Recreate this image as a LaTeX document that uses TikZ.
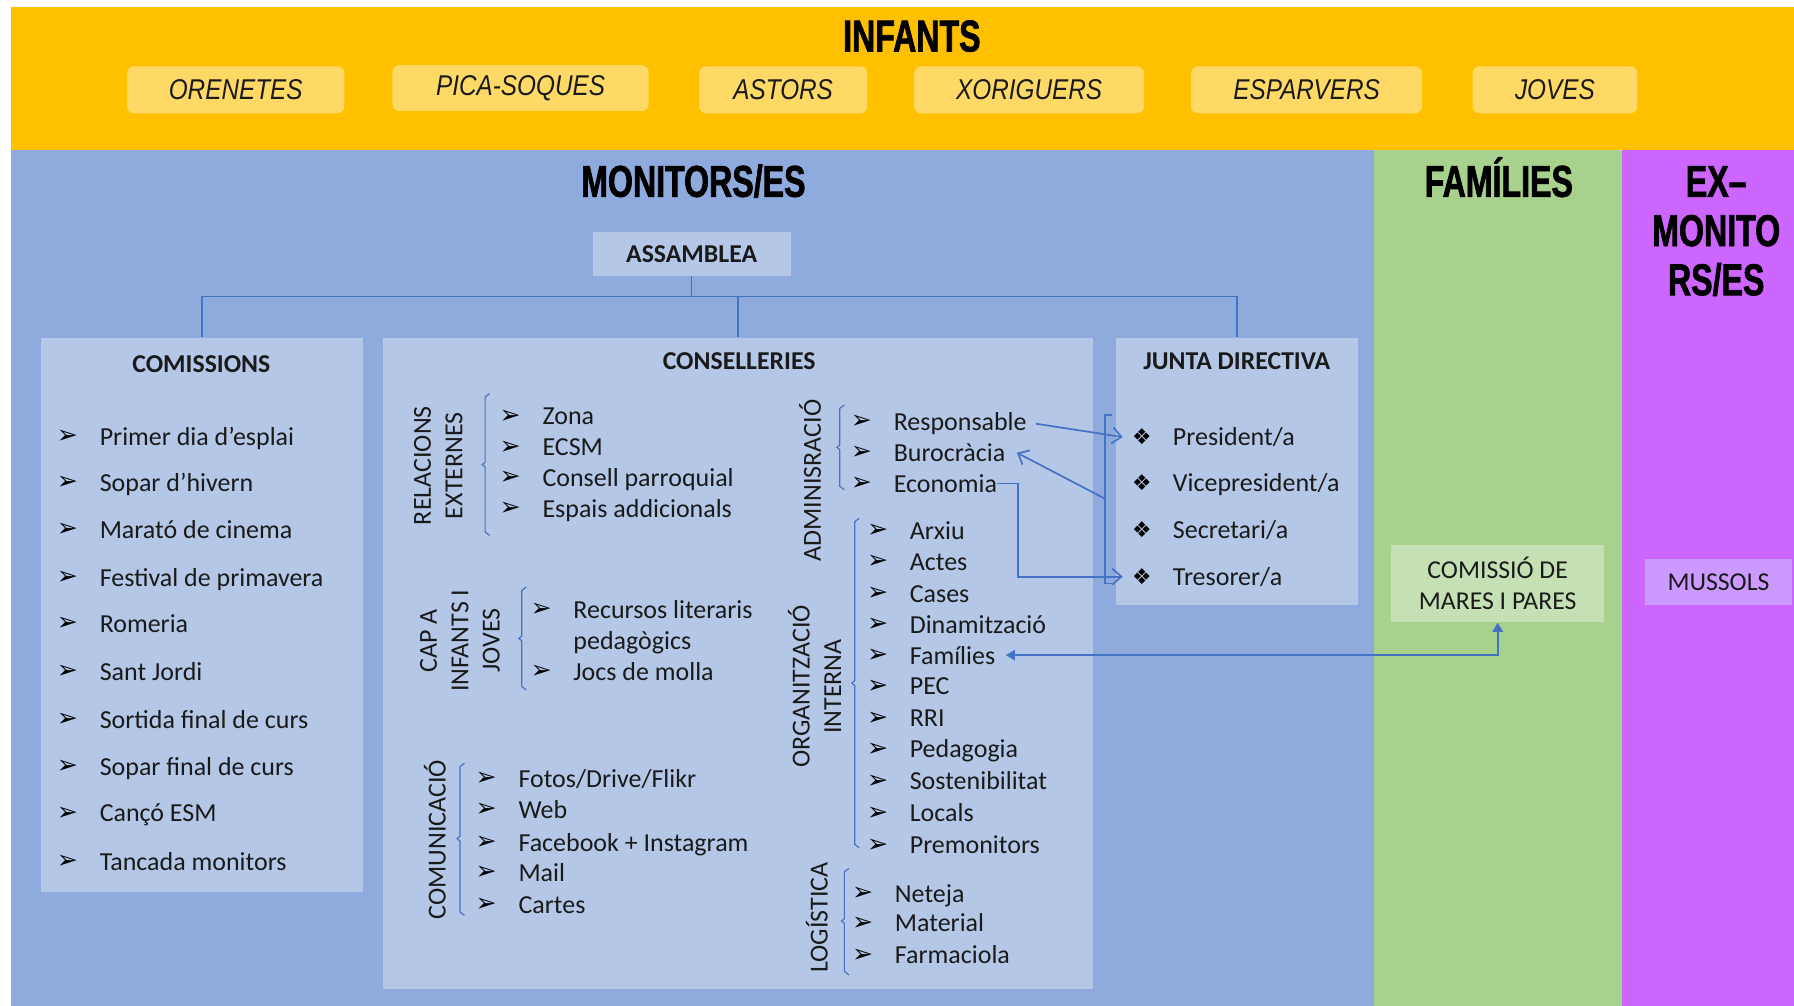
\documentclass[tikz,border=0pt]{standalone}
\usepackage{fontspec}
\setmainfont{Carlito}
\newfontfamily\symfont{DejaVu Sans}
\newfontfamily\brushfont{Liberation Sans}[FakeStretch=0.72,FakeBold=1.5]
\newfontfamily\grpfont{Liberation Sans}[FakeStretch=0.85]
\usetikzlibrary{arrows.meta}
\definecolor{yel}{HTML}{FFC000}
\definecolor{grpY}{HTML}{FFD966}
\definecolor{bgB}{HTML}{8FAADC}
\definecolor{boxB}{HTML}{B4C7E7}
\definecolor{bgG}{HTML}{A9D18E}
\definecolor{boxG}{HTML}{C5E0B4}
\definecolor{bgP}{HTML}{CC66FF}
\definecolor{boxP}{HTML}{CC99FF}
\definecolor{lineB}{HTML}{4472C4}
\definecolor{txt}{HTML}{1A1A1A}
\newcommand\Litem[4]{\node[bul] (#1b) at (#2-28,#3) {➢}; \node[itm] (#1) at (#2,#3) {#4};}
\newcommand\Jitem[4]{\node[bul, font=\symfont\fontsize{19}{22}\selectfont] (#1b) at (#2-27,#3) {❖}; \node[itm] (#1) at (#2,#3) {#4};}
\newcommand\Brk[4]{\draw[brk] (#1+4,#2) -- (#1,#2+3) -- (#1,#4-2) -- (#1-2.5,#4) -- (#1,#4+2) -- (#1,#3-3) -- (#1+4,#3);}
\begin{document}
\begin{tikzpicture}[x=1pt,y=-1pt,
  grp/.style={fill=grpY, rounded corners=6pt, inner sep=0pt, text=txt, font=\grpfont\itshape\fontsize{25}{28}\selectfont},
  lbox/.style={fill=boxB, inner sep=0pt},
  ttl/.style={inner sep=0pt, text=txt, font=\fontsize{22.5}{27}\selectfont\bfseries},
  itm/.style={anchor=mid west, inner sep=0pt, yshift=-5pt, text=txt, font=\fontsize{22.7}{27.5}\selectfont},
  bul/.style={inner sep=0pt, text=black, font=\symfont\fontsize{22}{24}\selectfont},
  vlab/.style={rotate=90, align=center, inner sep=0pt, text=txt, font=\fontsize{22.7}{27.5}\selectfont},
  brk/.style={draw=lineB, line width=1pt},
  tree/.style={draw=lineB, line width=1.3pt},
  conn/.style={draw=lineB, line width=1.5pt},
  barb/.style={-{Straight Barb[length=8pt,width=14pt]}},
  head/.style={inner sep=0pt, align=center, text=black, font=\brushfont\bfseries\fontsize{39}{43}\selectfont},
  plain/.style={inner sep=0pt, align=center, text=txt, font=\fontsize{22.5}{27}\selectfont}]
\useasboundingbox (0,0) rectangle (1568,879);
\fill[white] (0,0) rectangle (1568,879);
% bands
\fill[yel] (10,6) rectangle (1568,131);
\fill[bgB] (10,131) rectangle (1201,879);
\fill[bgG] (1201,131) rectangle (1418,879);
\fill[bgP] (1418,131) rectangle (1568,879);
% INFANTS
\node[head, anchor=base] (hinf) at (797,45) {INFANTS};
\node[grp, minimum width=190pt, minimum height=41pt] (g1) at (206,78.5) {ORENETES};
\node[grp, minimum width=224pt, minimum height=40pt] (g2) at (455,77) {PICA-SOQUES};
\node[grp, minimum width=147pt, minimum height=41pt] (g3) at (684.5,78.5) {ASTORS};
\node[grp, minimum width=201pt, minimum height=41pt] (g4) at (899.5,78.5) {XORIGUERS};
\node[grp, minimum width=202pt, minimum height=41pt] (g5) at (1142,78.5) {ESPARVERS};
\node[grp, minimum width=144pt, minimum height=41pt] (g6) at (1359,78.5) {JOVES};
% headings
\node[head, anchor=base] (hmon) at (606,172) {MONITORS/ES};
\node[head, anchor=base] (hfam) at (1310,172) {FAMÍLIES};
\node[head] (hex) at (1500,202) {EX–\\MONITO\\RS/ES};
% main boxes
\node[lbox, minimum width=173pt, minimum height=38pt, ttl] (asm) at (604.5,222) {ASSAMBLEA};
\node[lbox, minimum width=281pt, minimum height=485pt] (comis) at (176.5,537.5) {};
\node[lbox, minimum width=620pt, minimum height=569pt] (cons) at (645,579.5) {};
\node[lbox, minimum width=212pt, minimum height=234pt] (jd) at (1081,412) {};
\node[ttl] (tcomis) at (176,318) {COMISSIONS};
\node[ttl] (tcons) at (646,316) {CONSELLERIES};
\node[ttl] (tjd) at (1081,316) {JUNTA DIRECTIVA};
% tree
\coordinate (bus) at (0,259);
\draw[tree] (asm.south) -- (asm.south |- bus);
\draw[tree] (comis.north) -- (comis.north |- bus) -- (jd.north |- bus) -- (jd.north);
\draw[tree] (cons.north) -- (cons.north |- bus);
% COMISSIONS
\Litem{c1}{87}{382}{Primer dia d’esplai}
\Litem{c2}{87}{422}{Sopar d’hivern}
\Litem{c3}{87}{463}{Marató de cinema}
\Litem{c4}{87}{505}{Festival de primavera}
\Litem{c5}{87}{545}{Romeria}
\Litem{c6}{87}{587}{Sant Jordi}
\Litem{c7}{87}{629}{Sortida final de curs}
\Litem{c8}{87}{670}{Sopar final de curs}
\Litem{c9}{87}{711}{Cançó ESM}
\Litem{c10}{87}{753}{Tancada monitors}
% CONSELLERIES - left column
\node[vlab] (lre) at (383,407) {RELACIONS\\EXTERNES};
\Brk{424}{344}{468}{406}
\Litem{re1}{474}{364}{Zona}
\Litem{re2}{474}{391}{ECSM}
\Litem{re3}{474}{418}{Consell parroquial}
\Litem{re4}{474}{445}{Espais addicionals}
\node[vlab] (lca) at (402,560) {CAP A\\INFANTS I\\JOVES};
\Brk{456}{513}{603}{558}
\Litem{ca1}{501}{533}{Recursos literaris}
\node[itm] (ca1x) at (501,560) {pedagògics};
\Litem{ca2}{501}{587}{Jocs de molla}
\node[vlab] (lco) at (380,734) {COMUNICACIÓ};
\Brk{402}{667}{800}{733}
\Litem{co1}{453}{681}{Fotos/Drive/Flikr}
\Litem{co2}{453}{708}{Web}
\Litem{co3}{453}{737}{Facebook + Instagram}
\Litem{co4}{453}{763}{Mail}
\Litem{co5}{453}{791}{Cartes}
% CONSELLERIES - right column
\node[vlab] (lad) at (708,420) {ADMINISRACIÓ};
\Brk{734}{354}{428}{391}
\Litem{ad1}{781}{369}{Responsable}
\Litem{ad2}{781}{396}{Burocràcia}
\Litem{ad3}{781}{423}{Economia}
\node[vlab] (lor) at (712,600) {ORGANITZACIÓ\\INTERNA};
\Brk{747}{453}{741}{597}
\Litem{or1}{795}{464}{Arxiu}
\Litem{or2}{795}{491}{Actes}
\Litem{or3}{795}{519}{Cases}
\Litem{or4}{795}{546}{Dinamització}
\Litem{or5}{795}{573}{Famílies}
\Litem{or6}{795}{600}{PEC}
\Litem{or7}{795}{628}{RRI}
\Litem{or8}{795}{655}{Pedagogia}
\Litem{or9}{795}{683}{Sostenibilitat}
\Litem{or10}{795}{711}{Locals}
\Litem{or11}{795}{739}{Premonitors}
\node[vlab] (llo) at (714,802) {LOGÍSTICA};
\Brk{738}{759}{852}{805}
\Litem{lo1}{782}{781}{Neteja}
\Litem{lo2}{782}{807}{Material}
\Litem{lo3}{782}{835}{Farmaciola}
% JUNTA
\Jitem{j1}{1025}{382}{President/a}
\Jitem{j2}{1025}{422}{Vicepresident/a}
\Jitem{j3}{1025}{463}{Secretari/a}
\Jitem{j4}{1025}{504}{Tresorer/a}
\coordinate (jbt) at (966,363);
\coordinate (jbb) at (966,510);
\coordinate (jbm) at (966,436);
\draw[brk, line width=1.5pt] ([xshift=6pt]jbt) -- (jbt) -- (jbb) -- ([xshift=6pt]jbb);
% families / ex-monitors boxes
\node[plain, fill=boxG, minimum width=186pt, minimum height=68pt] (cmp) at (1309,510) {COMISSIÓ DE\\MARES I PARES};
\node[plain, fill=boxP, minimum width=128pt, minimum height=40pt] (mus) at (1502,509) {MUSSOLS};
% connectors
\draw[conn, barb] ([xshift=8pt]ad1.east) -- ([xshift=-8pt]j1b.west);
\draw[conn, barb] (jbm) -- ([xshift=10pt]ad2.east);
\draw[conn, barb] (ad3.east) -- ++(18,0) |- ([xshift=-8pt]j4b.west);
\draw[conn, {Triangle[length=8pt,width=9pt]}-{Triangle[length=8pt,width=9pt]}] ([xshift=9pt]or5.east) -| (cmp.south);
\end{tikzpicture}
\end{document}
